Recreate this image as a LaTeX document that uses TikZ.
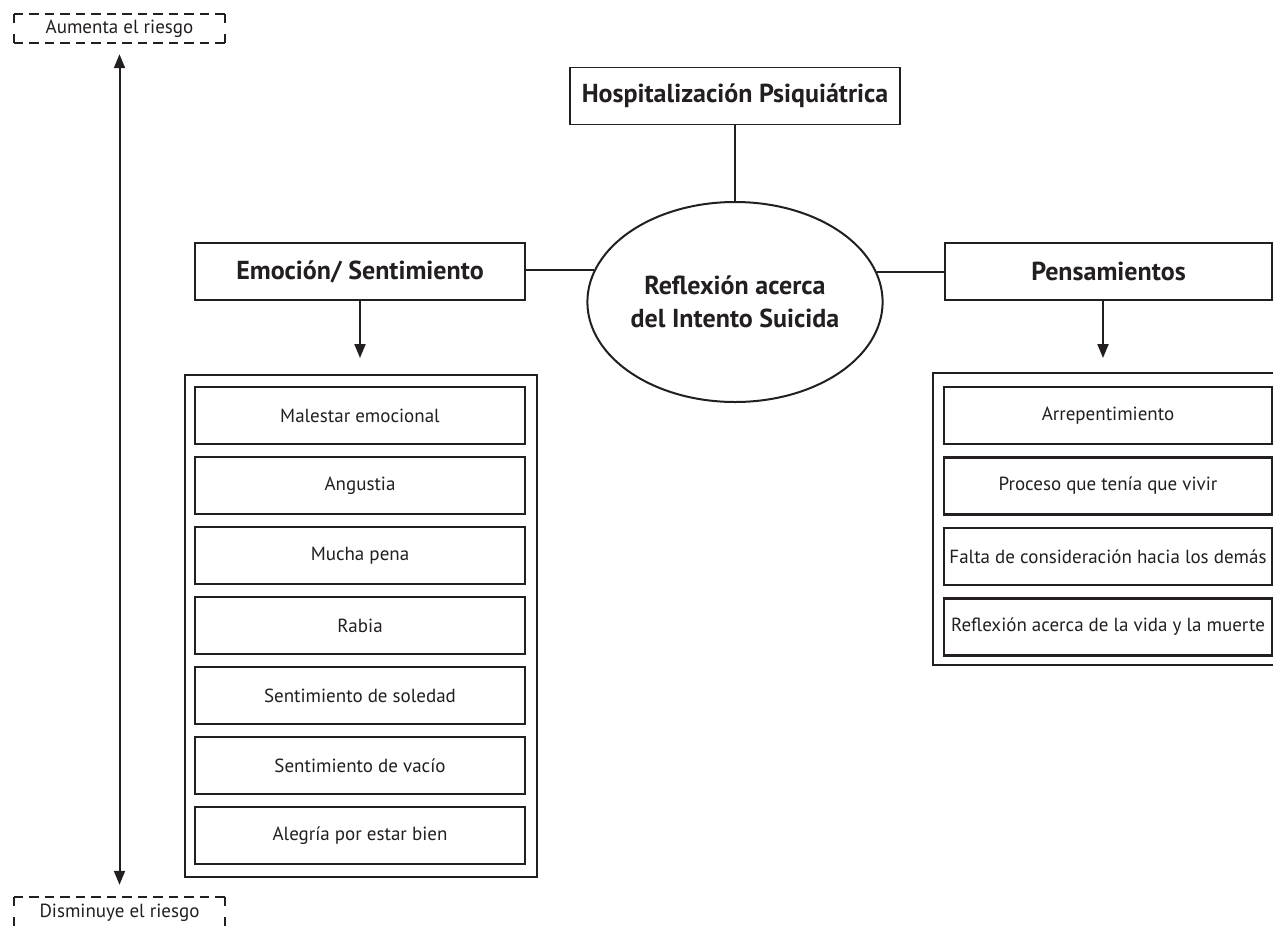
\documentclass[tikz,border=0pt]{standalone}
\usepackage{fontspec}
\setmainfont{PT Sans}
\usetikzlibrary{arrows.meta,shapes.geometric}
\definecolor{ink}{RGB}{35,31,32}
\tikzset{
  head/.style={draw=ink, line width=1.8pt, minimum height=57pt, inner sep=0pt,
    font=\fontsize{26}{30}\selectfont\bfseries, text=ink},
  itembox/.style={draw=ink, line width=2.3pt, minimum height=57pt, inner sep=0pt,
    font=\fontsize{19}{22}\selectfont, text=ink},
  frame/.style={draw=ink, line width=2pt, inner sep=0pt},
  riskbox/.style={minimum width=211pt, inner sep=0pt,
    font=\fontsize{19}{22}\selectfont, text=ink},
  hdash/.style={draw=ink, line width=1.8pt, dash pattern=on 9.5pt off 6pt},
  vdash/.style={draw=ink, line width=1.8pt, dash pattern=on 9pt off 11pt},
  link/.style={draw=ink, line width=2pt},
  arr/.style={link, -{Triangle[length=14pt,width=11pt]}},
}
\begin{document}
\begin{tikzpicture}[x=1pt,y=-1pt]
\clip (0,0) rectangle (1273,926);
\fill[white] (0,0) rectangle (1273,926);

% risk scale on the left, with dashed frames starting and ending on a dash
\node[riskbox, minimum height=29pt] (up) at (119.5,28.5) {Aumenta el riesgo};
\node[riskbox, minimum height=32pt] (down) at (119.5,913) {Disminuye el riesgo};
\foreach \b in {up,down}{
  \draw[hdash] (\b.north west) -- (\b.north east);
  \draw[hdash] (\b.south west) -- (\b.south east);
  \draw[vdash] (\b.north west) -- (\b.south west);
  \draw[vdash] (\b.north east) -- (\b.south east);
}
\draw[link, {Triangle[length=14pt,width=11pt]}-{Triangle[length=14pt,width=11pt]},
  shorten <=11pt, shorten >=12pt] (up.south) -- (down.north);

% central structure
\node[head, minimum width=330pt] (hosp) at (735,96) {Hospitalización Psiquiátrica};
\node[draw=ink, line width=2pt, ellipse, minimum width=294pt, minimum height=200pt,
  inner sep=0pt, align=center, font=\fontsize{26}{33}\selectfont\bfseries, text=ink]
  (refl) at (735,302) {Reflexión acerca\\del Intento Suicida};
\node[head, minimum width=330pt] (emo) at (360,271.5) {Emoción/ Sentimiento};
\node[head, minimum width=327pt] (pens) at (1108.5,271.5) {Pensamientos};

\draw[link] (hosp.south) -- (refl.north);
\draw[link] (emo.east |- refl.167.9) -- (refl.167.9);
\draw[link] (refl.12.1) -- (pens.west |- refl.12.1);

% frames holding the lists
\node[frame, minimum width=352pt, minimum height=502pt] (emoframe) at (361,626) {};
\node[frame, minimum width=360pt, minimum height=292pt] (pensframe) at (1113,519) {};

\coordinate (emotip) at (360,358);
\coordinate (penstip) at (1103,358);
\draw[arr] (emo.south) -- (emotip);
\draw[arr] (pens.south -| penstip) -- (penstip);

% emotions
\foreach \t [count=\i from 0] in {Malestar emocional, Angustia, Mucha pena, Rabia,
  Sentimiento de soledad, Sentimiento de vacío, Alegría por estar bien}
  \node[itembox, minimum width=330pt] (emo\i) at (360,415.5+70*\i) {\t};

% thoughts
\foreach \t [count=\i from 0] in {Arrepentimiento, Proceso que tenía que vivir,
  Falta de consideración hacia los demás, Reflexión acerca de la vida y la muerte}
  \node[itembox, minimum width=328pt] (pen\i) at (1108,415.5+70.5*\i) {\t};
\end{tikzpicture}
\end{document}
